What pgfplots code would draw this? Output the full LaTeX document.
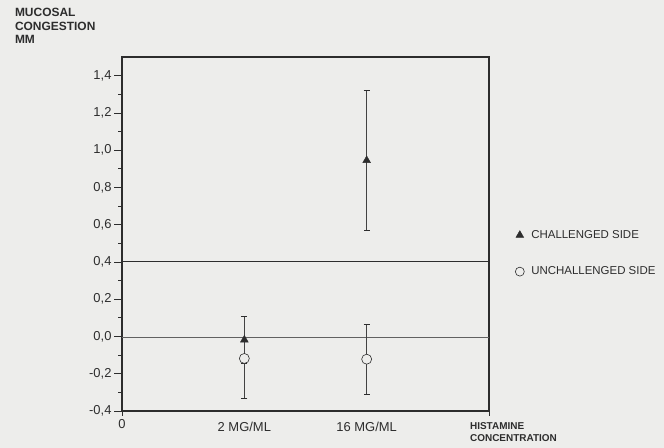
\documentclass[border=0pt]{standalone}
\usepackage{fontspec}
\setmainfont{Liberation Sans}
\usepackage{pgfplots}
\pgfplotsset{compat=1.18}
\definecolor{bgc}{RGB}{237,237,235}
\definecolor{ink}{RGB}{45,45,45}
\begin{document}
\begin{tikzpicture}[x=1bp,y=1bp]
\path[use as bounding box, fill=bgc] (0,0) rectangle (664,448);
\begin{axis}[
  at={(122bp,37bp)}, anchor=south west,
  scale only axis, width=367bp, height=354bp,
  xmin=0, xmax=3, ymin=-0.4, ymax=1.5,
  axis line style={draw=ink, line width=1.2bp},
  tick align=outside,
  xtick pos=bottom, ytick pos=left,
  major tick length=8bp, minor tick length=4bp,
  tick style={draw=ink, line width=0.7bp},
  ytick={-0.4,-0.2,0,0.2,0.4,0.6,0.8,1.0,1.2,1.4},
  yticklabels={{-0,4},{-0,2},{0,0},{0,2},{0,4},{0,6},{0,8},{1,0},{1,2},{1,4}},
  minor y tick num=1,
  xtick={1,2}, xticklabels={2 MG/ML,16 MG/ML},
  xtick style={draw=none},
  extra x ticks={0,3}, extra x tick labels={0,{}},
  extra x tick style={xtick style={draw=ink}, major tick length=5bp},
  ticklabel style={font=\fontsize{13}{15}\selectfont, text=ink},
  yticklabel style={xshift=1bp},
  xticklabel style={yshift=0.5bp},
  legend style={at={(axis description cs:1.063,0.522)}, anchor=north west, draw=none, fill=none,
    font=\fontsize{11.5}{13}\selectfont, text=ink, row sep=23bp,
    /tikz/every odd column/.append style={column sep=5bp}},
  legend cell align=left,
  error bars/error bar style={draw=ink!90, line width=0.6bp},
  error bars/error mark options={rotate=90, mark size=3bp, line width=0.6bp, draw=ink},
  clip=false,
]
\addlegendimage{only marks, mark=triangle*, mark size=4.5bp, draw=ink, fill=ink}
\addlegendentry{CHALLENGED SIDE}
\addlegendimage{only marks, mark=*, mark size=4.5bp, draw=ink, fill=bgc, mark options={line width=0.6bp}}
\addlegendentry{UNCHALLENGED SIDE}
% reference lines
\addplot[forget plot, draw=ink, line width=1.1bp] coordinates {(0,0.4) (3,0.4)};
\addplot[forget plot, draw=ink!75, line width=0.8bp] coordinates {(0,-0.005) (3,-0.005)};
% unchallenged side
\addplot[forget plot, only marks, mark=*, mark size=5bp, draw=ink, fill=bgc, mark options={line width=0.6bp},
  error bars/.cd, y dir=both, y explicit]
  coordinates {(1,-0.118) += (0,0.225) -= (0,0.212) (2,-0.122) += (0,0.187) -= (0,0.186)};
% challenged side
\addplot[forget plot, only marks, mark=triangle*, mark size=4.5bp, draw=ink, fill=ink,
  error bars/.cd, y dir=both, y explicit]
  coordinates {(1,-0.018) +- (0,0.125) (2,0.945) +- (0,0.376)};
\node[anchor=north west, inner sep=0, align=left, text=ink,
  font=\bfseries\fontsize{12}{13.5}\selectfont] at (axis description cs:-0.292,1.138)
  {MUCOSAL\\CONGESTION\\MM};
\node[anchor=north west, inner sep=0, align=left, text=ink,
  font=\bfseries\fontsize{10}{11.5}\selectfont] at (axis description cs:0.948,-0.033)
  {HISTAMINE\\CONCENTRATION};
\end{axis}
\end{tikzpicture}
\end{document}
